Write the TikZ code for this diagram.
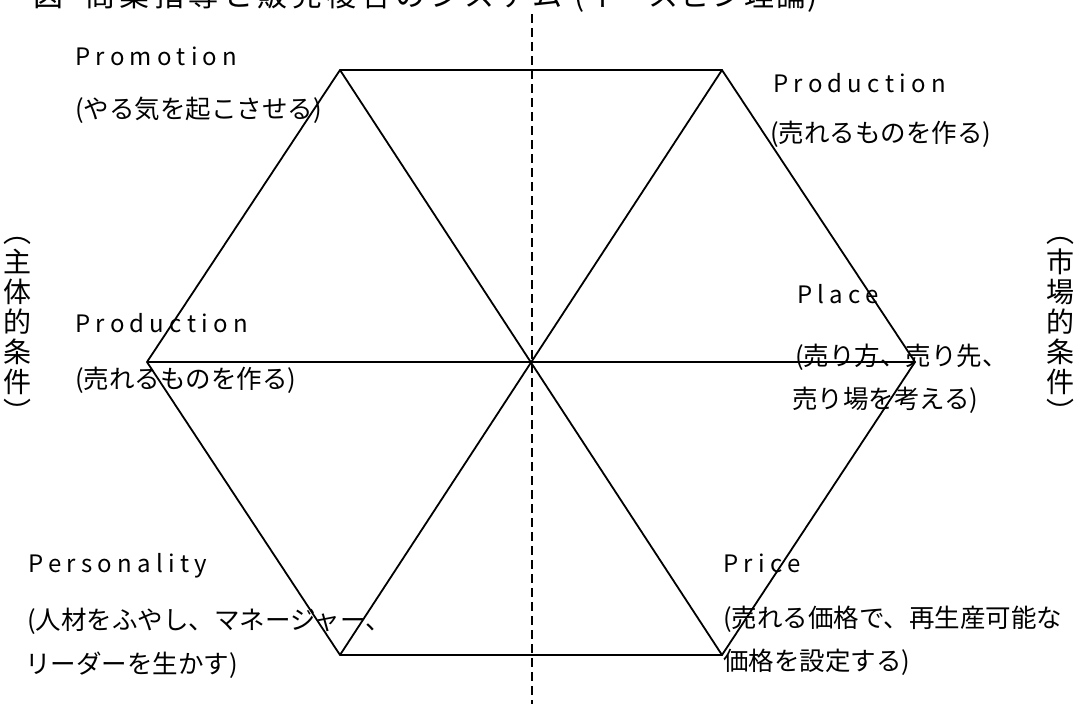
\documentclass[tikz,border=0pt]{standalone}
\usepackage{fontspec}
\setmainfont{Noto Sans CJK JP}
\newfontfamily\latsp[LetterSpace=22]{Noto Sans CJK JP}
\newfontfamily\titlef[LetterSpace=15]{Noto Sans CJK JP}
\newfontfamily\titlep[LetterSpace=6]{Noto Sans CJK JP}
\begin{document}
\begin{tikzpicture}[x=1pt,y=-1pt,
  hexline/.style={line width=1.8pt, black, line join=miter},
  axisline/.style={line width=1.5pt, black, dash pattern=on 9pt off 5pt},
  lab/.style={anchor=base west, inner sep=0pt, font=\fontsize{25.5}{30}\selectfont},
  latlab/.style={anchor=base west, inner sep=0pt, font=\latsp\fontsize{24}{30}\selectfont},
  vlab/.style={inner sep=0pt, align=center, font=\fontsize{28}{30}\selectfont},
  titlelab/.style={anchor=base west, inner sep=0pt, font=\fontsize{30}{34}\selectfont}]
\useasboundingbox (0,0) rectangle (1088,704);
\clip (0,0) rectangle (1088,704);
\fill[white] (0,0) rectangle (1088,704);
% title (cut off at the top edge)
\node[titlelab] (title) at (33,6) {\titlef 図\hspace{22pt}商業指導と販売複合のシステム\hspace{12pt}{\titlep (イースビン理論)}};
% axis
\coordinate (Dtop) at (532,14);
\coordinate (Dbot) at (532,704);
\draw[axisline] (Dtop) -- (Dbot);
% hexagon
\coordinate (TL) at (340,70);
\coordinate (TR) at (722,70);
\coordinate (R) at (915,362);
\coordinate (BR) at (722,655);
\coordinate (BL) at (340,655);
\coordinate (L) at (147,362);
\draw[hexline] (TL) -- (TR) -- (R) -- (BR) -- (BL) -- (L) -- cycle;
\draw[hexline] (TL) -- (BR);
\draw[hexline] (TR) -- (BL);
\draw[hexline] (L) -- (R);
% labels
\node[latlab] (promo) at (75,65) {Promotion};
\node[lab] (promoj) at (75,118) {(やる気を起こさせる)};
\node[latlab] (prodr) at (773,92) {Production};
\node[lab] (prodrj) at (770,142) {(売れるものを作る)};
\node[latlab] (prodl) at (75,332) {Production};
\node[lab] (prodlj) at (75,388) {(売れるものを作る)};
\node[latlab] (place) at (797,303) {Place};
\node[lab] (placej1) at (795,365) {(売り方、売り先、};
\node[lab] (placej2) at (792,408) {売り場を考える)};
\node[latlab] (pers) at (28,572) {Personality};
\node[lab] (persj1) at (27,629) {(人材をふやし、マネージャー、};
\node[lab] (persj2) at (25,673) {リーダーを生かす)};
\node[latlab] (price) at (723,572) {Price};
\node[lab] (pricej1) at (723,627) {(売れる価格で、再生産可能な};
\node[lab] (pricej2) at (723,670) {価格を設定する)};
% side labels
\node[vlab] (subj) at (18,330) {︵\\主\\体\\的\\条\\件\\︶};
\node[vlab] (mkt) at (1060,330) {︵\\市\\場\\的\\条\\件\\︶};
\end{tikzpicture}
\end{document}
